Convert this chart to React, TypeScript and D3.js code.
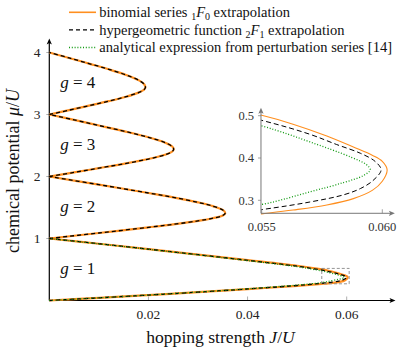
import React from "react";
import * as d3 from "d3";

// ---------- data ----------
const xTicks = [0.02, 0.04, 0.06];
const xTickLabels = ["0.02", "0.04", "0.06"];
const yTicks = [1, 2, 3, 4];
const yTickLabels = ["1", "2", "3", "4"];
const insetXTicks = [0.055, 0.06];
const insetXTickLabels = ["0.055", "0.060"];
const insetYTicks = [0.3, 0.4, 0.5];
const insetYTickLabels = ["0.3", "0.4", "0.5"];
const insetDomainJ = [0.05497, 0.0605];
const insetDomainMu = [0.2693, 0.5175];
const lobeNumbers = [1, 2, 3, 4];
const lobeLabelMu = [0.5, 1.5, 2.5, 3.5];
const lobeLabelJ = 0.0022;

// g = 1 lobe, three methods  [J/U, mu/U]
const binomialG1 = [
  [0, 0], [0.01, 0.043], [0.02, 0.088], [0.03, 0.134], [0.04, 0.184], [0.05, 0.236],
  [0.055, 0.268], [0.0563, 0.277], [0.0577, 0.289], [0.0588, 0.304], [0.0596, 0.324],
  [0.06, 0.345], [0.0602, 0.372], [0.06, 0.392], [0.0596, 0.406], [0.0588, 0.426],
  [0.0577, 0.452], [0.0563, 0.48], [0.055, 0.501], [0.05, 0.56], [0.04, 0.652],
  [0.03, 0.741], [0.02, 0.829], [0.01, 0.915], [0, 1],
];
const hypergeomG1 = [
  [0, 0], [0.01, 0.043], [0.02, 0.088], [0.03, 0.135], [0.04, 0.186], [0.05, 0.242],
  [0.055, 0.278], [0.057, 0.296], [0.0584, 0.313], [0.0591, 0.328], [0.0596, 0.346],
  [0.05995, 0.372], [0.0597, 0.392], [0.0591, 0.411], [0.0581, 0.432], [0.057, 0.456],
  [0.055, 0.489], [0.05, 0.553], [0.04, 0.648], [0.03, 0.739], [0.02, 0.828],
  [0.01, 0.915], [0, 1],
];
const analyticG1 = [
  [0, 0], [0.01, 0.043], [0.02, 0.088], [0.03, 0.136], [0.04, 0.189], [0.05, 0.25],
  [0.055, 0.29], [0.057, 0.32], [0.0584, 0.342], [0.0592, 0.358], [0.0595, 0.372],
  [0.05935, 0.384], [0.0587, 0.402], [0.057, 0.438], [0.055, 0.476], [0.05, 0.545],
  [0.04, 0.643], [0.03, 0.736], [0.02, 0.826], [0.01, 0.914], [0, 1],
];
// higher lobes (binomial and hypergeometric coincide)
const lobeG2 = [
  [0, 1], [0.01, 1.089], [0.02, 1.18], [0.025, 1.228], [0.03, 1.284], [0.033, 1.327],
  [0.035, 1.37], [0.0355, 1.41], [0.035, 1.46], [0.033, 1.522], [0.03, 1.583],
  [0.025, 1.664], [0.02, 1.734], [0.01, 1.869], [0, 2],
];
const lobeG3 = [
  [0, 2], [0.005, 2.066], [0.01, 2.135], [0.015, 2.204], [0.02, 2.282], [0.0235, 2.354],
  [0.0248, 2.403], [0.0251, 2.44], [0.0248, 2.484], [0.0235, 2.542], [0.02, 2.633],
  [0.015, 2.732], [0.01, 2.823], [0.005, 2.913], [0, 3],
];
const lobeG4 = [
  [0, 3], [0.004, 3.07], [0.008, 3.142], [0.012, 3.215], [0.0155, 3.287], [0.018, 3.353],
  [0.0191, 3.4], [0.0194, 3.44], [0.0191, 3.493], [0.018, 3.554], [0.0155, 3.638],
  [0.012, 3.729], [0.008, 3.821], [0.004, 3.912], [0, 4],
];

// ---------- styles ----------
const ORANGE = "#ff8f1f";
const GREEN = "#119a11";
const FONT = "'Liberation Serif', 'Times New Roman', serif";

const W = 398;
const H = 352;

const x = d3.scaleLinear().domain([0, 0.06]).range([49.3, 346.7]);
const y = d3.scaleLinear().domain([0, 4]).range([300.5, 52.5]);
const xi = d3.scaleLinear().domain([0.055, 0.06]).range([261.7, 382.3]);
const yi = d3.scaleLinear().domain([0.3, 0.5]).range([200.3, 115.7]);

const mkLine = (sx: any, sy: any) =>
  d3
    .line<number[]>()
    .x((d) => sx(d[0]))
    .y((d) => sy(d[1]))
    .curve(d3.curveCatmullRom.alpha(0.5));

function Arrow({ x0, y0, dir, color }: { x0: number; y0: number; dir: "up" | "right"; color: string }) {
  const p =
    dir === "right"
      ? `M${x0},${y0} L${x0 - 6},${y0 - 2.6} L${x0 - 4.6},${y0} L${x0 - 6},${y0 + 2.6} Z`
      : `M${x0},${y0} L${x0 - 2.6},${y0 + 6} L${x0},${y0 + 4.6} L${x0 + 2.6},${y0 + 6} Z`;
  return <path d={p} fill={color} stroke="none" />;
}

export default function App() {
  const line = mkLine(x, y);
  const lineI = mkLine(xi, yi);
  const higher = [lobeG2, lobeG3, lobeG4];

  const x0 = x(0);
  const y0 = y(0);
  const xi0 = xi(insetDomainJ[0]);
  const yi0 = yi(insetDomainMu[0]);
  const xiEnd = xi(insetDomainJ[1]);
  const yiTop = yi(insetDomainMu[1]);

  return (
    <svg
      width={W}
      height={H}
      viewBox={`0 0 ${W} ${H}`}
      style={{ position: "absolute", left: 0, top: 0, background: "#fff" }}
      fontFamily={FONT}
    >
      <defs>
        <clipPath id="insetClip">
          <rect x={xi0} y={100} width={400 - xi0} height={yi0 - 100 + 2} />
        </clipPath>
      </defs>

      {/* ---------- main axes ---------- */}
      {xTicks.map((t) => (
        <line key={"xt" + t} x1={x(t)} x2={x(t)} y1={y0 - 4} y2={y0} stroke="#999" strokeWidth={0.8} />
      ))}
      {yTicks.map((t) => (
        <line key={"yt" + t} x1={x0 - 3} x2={x0 + 3} y1={y(t)} y2={y(t)} stroke="#999" strokeWidth={0.8} />
      ))}
      <line x1={x0} x2={392} y1={y0} y2={y0} stroke="#000" strokeWidth={1.2} />
      <Arrow x0={395.5} y0={y0} dir="right" color="#000" />
      <line x1={x0} x2={x0} y1={y0} y2={42} stroke="#000" strokeWidth={1.2} />
      <Arrow x0={x0} y0={38.5} dir="up" color="#000" />

      {xTicks.map((t, i) => (
        <text key={"xl" + t} x={x(t)} y={319} fontSize={13.5} textAnchor="middle" fill="#222">
          {xTickLabels[i]}
        </text>
      ))}
      {yTicks.map((t, i) => (
        <text key={"yl" + t} x={40.5} y={y(t) + 4.5} fontSize={13.5} textAnchor="end" fill="#222">
          {yTickLabels[i]}
        </text>
      ))}

      <text x={220.5} y={342.5} fontSize={17.6} textAnchor="middle" fill="#111">
        hopping strength <tspan fontStyle="italic">J</tspan>/<tspan fontStyle="italic">U</tspan>
      </text>
      <text
        transform={`translate(18.5,171) rotate(-90)`}
        fontSize={18}
        textAnchor="middle"
        fill="#111"
      >
        chemical potential <tspan fontStyle="italic">μ</tspan>/<tspan fontStyle="italic">U</tspan>
      </text>

      {/* ---------- main curves ---------- */}
      <path d={line(binomialG1) || ""} fill="none" stroke={ORANGE} strokeWidth={2.2} />
      {higher.map((d, i) => (
        <path key={"o" + i} d={line(d) || ""} fill="none" stroke={ORANGE} strokeWidth={2.2} />
      ))}
      <path d={line(hypergeomG1) || ""} fill="none" stroke="#000" strokeWidth={1.3} strokeDasharray="4 3" />
      {higher.map((d, i) => (
        <path key={"b" + i} d={line(d) || ""} fill="none" stroke="#000" strokeWidth={1.3} strokeDasharray="4 3" />
      ))}
      <path d={line(analyticG1) || ""} fill="none" stroke={GREEN} strokeWidth={1.3} strokeDasharray="1 1.8" />

      {/* lobe labels */}
      {lobeNumbers.map((g, i) => (
        <text key={"g" + g} x={x(lobeLabelJ)} y={y(lobeLabelMu[i]) + 4} fontSize={17} fill="#111">
          <tspan fontStyle="italic">g</tspan> = {g}
        </text>
      ))}

      {/* zoom box */}
      <rect
        x={x(insetDomainJ[0])}
        y={y(insetDomainMu[1])}
        width={x(insetDomainJ[1]) - x(insetDomainJ[0])}
        height={y(insetDomainMu[0]) - y(insetDomainMu[1])}
        fill="none"
        stroke="#888"
        strokeWidth={0.9}
        strokeDasharray="3 2"
      />

      {/* ---------- inset ---------- */}
      <g clipPath="url(#insetClip)">
        <path d={lineI(binomialG1) || ""} fill="none" stroke={ORANGE} strokeWidth={1.1} />
        <path d={lineI(hypergeomG1) || ""} fill="none" stroke="#000" strokeWidth={1} strokeDasharray="5 3" />
        <path d={lineI(analyticG1) || ""} fill="none" stroke={GREEN} strokeWidth={1.3} strokeDasharray="1 1.8" />
      </g>
      {insetXTicks.map((t) => (
        <line key={"ixt" + t} x1={xi(t)} x2={xi(t)} y1={yi0 - 4} y2={yi0} stroke="#888" strokeWidth={0.8} />
      ))}
      {insetYTicks.map((t) => (
        <line key={"iyt" + t} x1={xi0 - 3} x2={xi0} y1={yi(t)} y2={yi(t)} stroke="#888" strokeWidth={0.8} />
      ))}
      <line x1={xi0} x2={xiEnd - 2} y1={yi0} y2={yi0} stroke="#777" strokeWidth={1} />
      <Arrow x0={xiEnd + 0.5} y0={yi0} dir="right" color="#777" />
      <line x1={xi0} x2={xi0} y1={yi0} y2={yiTop + 2} stroke="#777" strokeWidth={1} />
      <Arrow x0={xi0} y0={yiTop - 0.5} dir="up" color="#777" />
      {insetXTicks.map((t, i) => (
        <text key={"ixl" + t} x={xi(t)} y={231} fontSize={12.5} textAnchor="middle" fill="#333">
          {insetXTickLabels[i]}
        </text>
      ))}
      {insetYTicks.map((t, i) => (
        <text key={"iyl" + t} x={254} y={yi(t) + 4.2} fontSize={12.5} textAnchor="end" fill="#333">
          {insetYTickLabels[i]}
        </text>
      ))}

      {/* ---------- legend ---------- */}
      <line x1={69} x2={96} y1={12.3} y2={12.3} stroke={ORANGE} strokeWidth={1.6} />
      <text x={99.3} y={17} fontSize={14.5} fill="#111">
        binomial series <tspan fontSize={10} dy={3}>1</tspan>
        <tspan dy={-3} fontStyle="italic">F</tspan>
        <tspan fontSize={10} dy={3}>0</tspan>
        <tspan dy={-3}> extrapolation</tspan>
      </text>
      <line x1={69} x2={96} y1={29.9} y2={29.9} stroke="#000" strokeWidth={1.2} strokeDasharray="4 3" />
      <text x={99.3} y={34.6} fontSize={14.5} fill="#111">
        hypergeometric function <tspan fontSize={10} dy={3}>2</tspan>
        <tspan dy={-3} fontStyle="italic">F</tspan>
        <tspan fontSize={10} dy={3}>1</tspan>
        <tspan dy={-3}> extrapolation</tspan>
      </text>
      <line x1={69} x2={96} y1={47.5} y2={47.5} stroke={GREEN} strokeWidth={1.3} strokeDasharray="1 1.8" />
      <text x={99.3} y={52.2} fontSize={14.5} fill="#111">
        analytical expression from perturbation series [14]
      </text>
    </svg>
  );
}
